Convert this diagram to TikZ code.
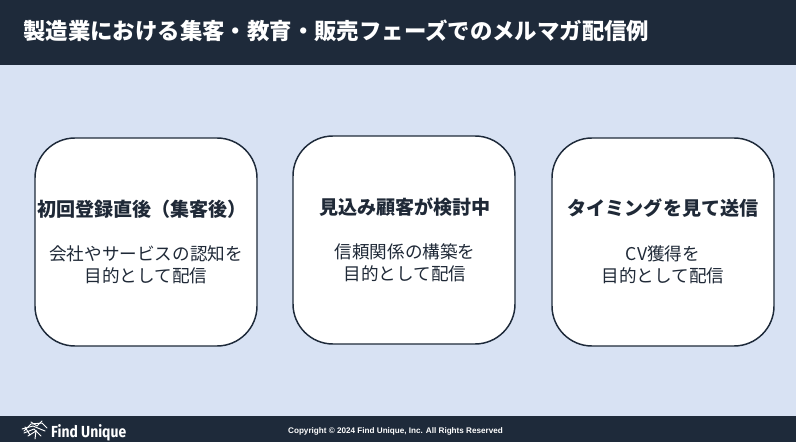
\documentclass[tikz,border=0pt]{standalone}
\usepackage{fontspec}
\setmainfont{Liberation Sans}
\newfontfamily\cjk{Noto Sans CJK JP}
\newfontfamily\cjkb{Noto Sans CJK JP Bold}
\newfontfamily\logof{Fira Sans Bold}
\definecolor{navy}{HTML}{1E2A3A}
\definecolor{pale}{HTML}{D8E2F3}
\definecolor{ink}{HTML}{1F2937}
\tikzset{
  card/.style={draw=navy,line width=1.1pt,fill=white,rounded corners=30pt},
  headtext/.style={text=ink,font=\cjk\bfseries\fontsize{14.3}{17}\selectfont,inner sep=0pt,anchor=center},
  bodytext/.style={text=ink,font=\cjk\fontsize{13.2}{16.5}\selectfont,align=center,inner sep=0pt,anchor=center},
  logostroke/.style={draw=white,line width=0.7pt,line cap=round}
}
\begin{document}
\begin{tikzpicture}[x=0.75pt,y=-0.75pt]
\useasboundingbox (0,0) rectangle (796,442);
\fill[pale] (0,0) rectangle (796,442);
\fill[navy] (0,0) rectangle (796,65);
\fill[navy] (0,416) rectangle (796,442);
\node[anchor=west,text=white,inner sep=0pt,font=\cjk\bfseries\fontsize{16.8}{20}\selectfont] (title) at (23,31) {製造業における集客・教育・販売フェーズでのメルマガ配信例};
\draw[card] (35,138) rectangle (257,346);
\draw[card] (293,136) rectangle (515,344);
\draw[card] (552,138) rectangle (774,346);
\node[headtext] (h1) at (142,209) {初回登録直後（集客後）};
\node[bodytext] (b1) at (146,265) {会社やサービスの認知を\\目的として配信};
\node[headtext] (h2) at (405,207) {見込み顧客が検討中};
\node[bodytext] (b2) at (405,263) {信頼関係の構築を\\目的として配信};
\node[headtext] (h3) at (663,208) {タイミングを見て送信};
\node[bodytext] (b3) at (663,265) {CV獲得を\\目的として配信};
% logo
\draw[logostroke] (24,431) -- (31,424) -- (42,423) -- (47,428);
\draw[logostroke] (22,429) -- (33,426) -- (45,431);
\draw[logostroke] (24,433) -- (34,429) -- (41,436);
\draw[logostroke] (28,436) -- (36,431) -- (35,439);
\draw[logostroke] (31,422) -- (37,426) -- (42,421);
\draw[logostroke] (25,427) -- (30,435);
\node[anchor=west,text=white,inner sep=0pt,font=\logof\fontsize{12}{14}\selectfont,xscale=0.87] (logo) at (51,433) {Find Unique};
\node[text=white,inner sep=0pt,font=\bfseries\fontsize{6.1}{8}\selectfont] (copy) at (395.5,431) {Copyright © 2024 Find Unique, Inc. All Rights Reserved};
\end{tikzpicture}
\end{document}
